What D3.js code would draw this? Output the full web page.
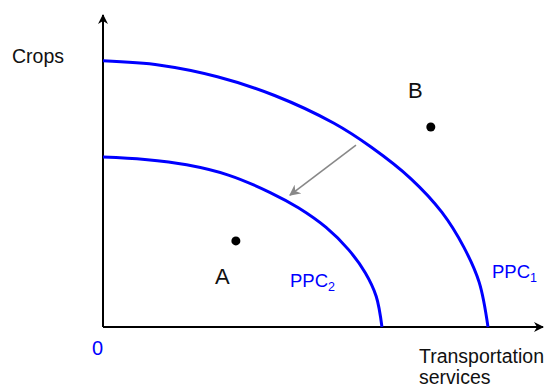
<!DOCTYPE html>
<html>
<head>
<meta charset="utf-8">
<script src="https://cdn.jsdelivr.net/npm/d3@7"></script>
<style>
  body { margin: 0; background: #fff; }
  text { font-family: "Liberation Sans", Arial, sans-serif; }
</style>
</head>
<body>
<div id="chart"></div>
<script>
// PPC points (x = transportation, y = crops)
const ppc1X = [0, 1.3, 2.6, 3.9, 5.25, 6.1, 7.0, 7.7, 8.2, 8.55, 8.75];
const ppc1Y = [8.53, 8.39, 8.02, 7.42, 6.53, 5.76, 4.75, 3.68, 2.56, 1.43, 0];
const ppc2X = [0, 0.95, 1.90, 2.85, 3.80, 4.44, 5.07, 5.58, 5.96, 6.21, 6.34];
const ppc2Y = [5.45, 5.37, 5.20, 4.87, 4.31, 3.82, 3.19, 2.48, 1.74, 0.98, 0];

const pointNames = ['A', 'B'];
const pointX = [3.02, 7.45];
const pointY = [2.76, 6.41];

// shift arrow: from outer curve towards inner curve
const shiftFrom = [5.75, 5.83];
const shiftTo = [4.25, 4.23];

const w = 549;
const h = 387;
const origin = { x: 103, y: 327 };

const xScale = d3.scaleLinear().domain([0, 10]).range([origin.x, 543]);
const yScale = d3.scaleLinear().domain([0, 10]).range([origin.y, 15]);

const svg = d3.select('#chart')
  .append('svg')
  .attr('width', w)
  .attr('height', h);

const defs = svg.append('defs');
defs.append('marker')
  .attr('id', 'axisHead')
  .attr('viewBox', '0 0 10 10')
  .attr('refX', 9).attr('refY', 5)
  .attr('markerWidth', 10).attr('markerHeight', 10)
  .attr('markerUnits', 'userSpaceOnUse')
  .attr('orient', 'auto')
  .append('path')
  .attr('d', 'M0,0 L10,5 L0,10 L3,5 Z')
  .attr('fill', '#000');

defs.append('marker')
  .attr('id', 'shiftHead')
  .attr('viewBox', '0 0 10 10')
  .attr('refX', 9).attr('refY', 5)
  .attr('markerWidth', 11).attr('markerHeight', 11)
  .attr('markerUnits', 'userSpaceOnUse')
  .attr('orient', 'auto')
  .append('path')
  .attr('d', 'M0,0 L10,5 L0,10 L3,5 Z')
  .attr('fill', '#888');

// axes
svg.append('line')
  .attr('x1', xScale(0)).attr('y1', yScale(0))
  .attr('x2', xScale(0)).attr('y2', yScale(10))
  .attr('stroke', '#000').attr('stroke-width', 2)
  .attr('marker-end', 'url(#axisHead)');

svg.append('line')
  .attr('x1', xScale(0)).attr('y1', yScale(0))
  .attr('x2', xScale(10)).attr('y2', yScale(0))
  .attr('stroke', '#000').attr('stroke-width', 2)
  .attr('marker-end', 'url(#axisHead)');

// curves
const curve = d3.line()
  .x(d => xScale(d[0]))
  .y(d => yScale(d[1]))
  .curve(d3.curveCatmullRom.alpha(0.5));

svg.append('path')
  .datum(d3.zip(ppc1X, ppc1Y))
  .attr('fill', 'none')
  .attr('stroke', '#0000ff')
  .attr('stroke-width', 3)
  .attr('d', curve);

svg.append('path')
  .datum(d3.zip(ppc2X, ppc2Y))
  .attr('fill', 'none')
  .attr('stroke', '#0000ff')
  .attr('stroke-width', 3)
  .attr('d', curve);

// shift arrow
svg.append('line')
  .attr('x1', xScale(shiftFrom[0])).attr('y1', yScale(shiftFrom[1]))
  .attr('x2', xScale(shiftTo[0])).attr('y2', yScale(shiftTo[1]))
  .attr('stroke', '#888').attr('stroke-width', 1.6)
  .attr('marker-end', 'url(#shiftHead)');

// points A and B
svg.selectAll('.pt')
  .data(pointNames)
  .enter()
  .append('circle')
  .attr('class', 'pt')
  .attr('cx', (d, i) => xScale(pointX[i]))
  .attr('cy', (d, i) => yScale(pointY[i]))
  .attr('r', 4.5)
  .attr('fill', '#000');

svg.append('text')
  .attr('x', xScale(pointX[0]) - 21).attr('y', 284)
  .attr('font-size', 22).attr('fill', '#111')
  .text('A');

svg.append('text')
  .attr('x', 408).attr('y', 98)
  .attr('font-size', 22).attr('fill', '#111')
  .text('B');

// curve labels
const ppcLabel = (x, y, sub) => {
  const t = svg.append('text')
    .attr('x', x).attr('y', y)
    .attr('font-size', 18.5).attr('fill', '#0000ff');
  t.append('tspan').text('PPC');
  t.append('tspan').attr('font-size', 12.5).attr('dy', 4).text(sub);
};
ppcLabel(290, 287, '2');
ppcLabel(492, 278, '1');

// axis labels
svg.append('text')
  .attr('x', 12).attr('y', 63)
  .attr('font-size', 19.5).attr('fill', '#111')
  .text('Crops');

svg.append('text')
  .attr('x', 92).attr('y', 355)
  .attr('font-size', 20).attr('fill', '#0000ff')
  .text('0');

svg.append('text')
  .attr('x', 419).attr('y', 363)
  .attr('font-size', 19.5).attr('fill', '#111')
  .text('Transportation');

svg.append('text')
  .attr('x', 419).attr('y', 384)
  .attr('font-size', 19.5).attr('fill', '#111')
  .text('services');
</script>
</body>
</html>
